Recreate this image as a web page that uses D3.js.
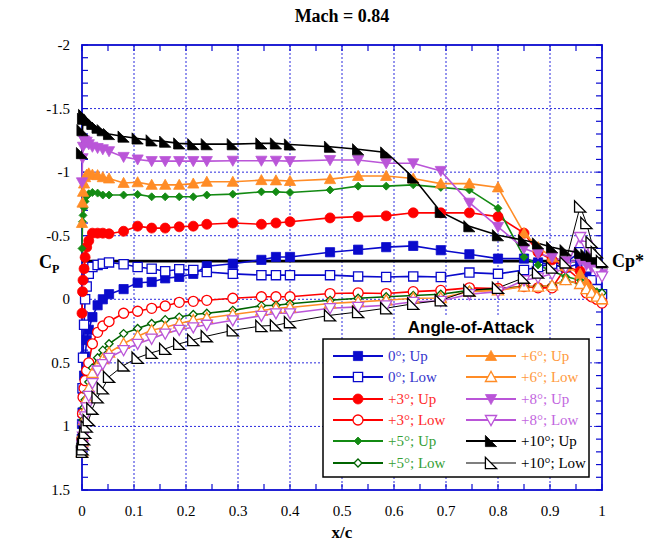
<!DOCTYPE html>
<html>
<head>
<meta charset="utf-8">
<script src="https://cdn.jsdelivr.net/npm/d3@7"></script>
<style>
  body { margin: 0; background: #fff; }
  svg { display: block; }
</style>
</head>
<body>
<svg id="chart" width="647" height="548"></svg>
<script>
// pressure tap locations (x/c), shared by all runs
var taps = [0, 0.001, 0.002, 0.004, 0.006, 0.009, 0.013, 0.02, 0.03, 0.04, 0.052, 0.08, 0.107, 0.134,
    0.16, 0.187, 0.214, 0.24, 0.29, 0.345, 0.373, 0.40, 0.477, 0.531, 0.585, 0.637, 0.69, 0.745,
    0.80, 0.85, 0.877, 0.904, 0.93, 0.958, 0.97, 0.98, 0.99, 1.0];

// Cp values, one per tap
var cp0Up = [0.98, 0.89, 0.75, 0.6, 0.45, 0.32, 0.24, 0.14, 0.047, 0.0, -0.04, -0.08, -0.13, -0.136,
    -0.165, -0.176, -0.2, -0.26, -0.28, -0.31, -0.333, -0.333, -0.37, -0.39, -0.41, -0.42, -0.386, -0.354,
    -0.32, -0.32, -0.29, -0.27, -0.25, -0.28, -0.2, -0.12, -0.07, -0.04];
var cp0Low = [1.1, 0.7, 0.46, 0.2, 0.0, -0.1, -0.2, -0.254, -0.27, -0.28, -0.29, -0.275, -0.254, -0.24,
    -0.22, -0.236, -0.23, -0.215, -0.2, -0.19, -0.19, -0.19, -0.19, -0.18, -0.175, -0.18, -0.175, -0.21,
    -0.2, -0.23, -0.254, -0.28, -0.29, -0.37, -0.25, -0.15, -0.08, -0.04];
var cp3Up = [0.11, -0.06, -0.15, -0.24, -0.33, -0.41, -0.46, -0.52, -0.52, -0.52, -0.515, -0.535, -0.575, -0.56,
    -0.56, -0.57, -0.575, -0.59, -0.6, -0.59, -0.6, -0.61, -0.64, -0.65, -0.656, -0.68, -0.68, -0.68,
    -0.65, -0.52, -0.37, -0.31, -0.26, -0.22, -0.12, -0.06, 0.0, 0.02];
var cp3Low = [1.1, 0.9, 0.77, 0.7, 0.64, 0.56, 0.5, 0.35, 0.26, 0.21, 0.175, 0.11, 0.094, 0.071,
    0.053, 0.024, 0.016, 0.008, -0.008, -0.02, -0.02, -0.02, -0.045, -0.05, -0.045, -0.06, -0.07, -0.09,
    -0.085, -0.1, -0.09, -0.09, -0.25, -0.15, -0.05, -0.02, 0.0, 0.03];
var cp5Up = [-0.4, -0.61, -0.66, -0.72, -0.77, -0.81, -0.83, -0.84, -0.835, -0.82, -0.82, -0.82, -0.825, -0.806,
    -0.806, -0.806, -0.806, -0.82, -0.827, -0.845, -0.845, -0.84, -0.86, -0.89, -0.89, -0.9, -0.88, -0.86,
    -0.716, -0.333, -0.27, -0.22, -0.18, -0.15, -0.1, -0.08, -0.06, -0.05];
var cp5Low = [1.15, 1.05, 0.95, 0.85, 0.79, 0.73, 0.65, 0.54, 0.46, 0.4, 0.35, 0.27, 0.23, 0.19,
    0.16, 0.14, 0.12, 0.11, 0.087, 0.05, 0.047, 0.035, 0.008, -0.008, -0.02, -0.03, -0.04, -0.07,
    -0.08, -0.1, -0.1, -0.11, -0.15, -0.12, -0.08, -0.05, -0.04, -0.05];
var cp6Up = [-0.6, -0.76, -0.845, -0.91, -0.96, -0.98, -0.99, -0.98, -0.976, -0.96, -0.95, -0.915, -0.92, -0.9,
    -0.9, -0.9, -0.91, -0.924, -0.924, -0.937, -0.935, -0.93, -0.945, -0.97, -0.97, -0.95, -0.91, -0.91,
    -0.88, -0.52, -0.41, -0.33, -0.26, -0.2, -0.13, -0.08, -0.03, 0.0];
var cp6Low = [1.2, 1.12, 1.05, 0.95, 0.87, 0.78, 0.7, 0.58, 0.52, 0.47, 0.42, 0.35, 0.29, 0.244,
    0.22, 0.19, 0.165, 0.147, 0.12, 0.09, 0.07, 0.064, 0.033, 0.02, 0.008, -0.008, -0.01, -0.06,
    -0.07, -0.1, -0.1, -0.11, -0.15, -0.12, -0.08, -0.05, -0.02, 0.0];
var cp8Up = [-0.92, -1.11, -1.2, -1.25, -1.24, -1.24, -1.22, -1.2, -1.19, -1.18, -1.165, -1.12, -1.1, -1.087,
    -1.087, -1.087, -1.087, -1.087, -1.09, -1.09, -1.09, -1.087, -1.095, -1.095, -1.07, -1.07, -1.01, -0.76,
    -0.57, -0.4, -0.36, -0.33, -0.3, -0.3, -0.27, -0.25, -0.23, -0.2];
var cp8Low = [1.2, 1.15, 1.08, 1.0, 0.92, 0.85, 0.76, 0.66, 0.56, 0.51, 0.46, 0.4, 0.35, 0.31,
    0.27, 0.24, 0.22, 0.2, 0.165, 0.13, 0.11, 0.11, 0.07, 0.06, 0.047, 0.02, 0.013, -0.04,
    -0.06, -0.15, -0.17, -0.2, -0.25, -0.49, -0.42, -0.32, -0.22, -0.18];
var cp10Up = [-1.15, -1.33, -1.42, -1.45, -1.44, -1.42, -1.41, -1.38, -1.35, -1.33, -1.3, -1.28, -1.265, -1.25,
    -1.24, -1.226, -1.22, -1.22, -1.22, -1.226, -1.226, -1.218, -1.2, -1.18, -1.155, -0.958, -0.687, -0.575,
    -0.504, -0.465, -0.44, -0.41, -0.386, -0.365, -0.35, -0.34, -0.32, -0.29];
var cp10Low = [1.2, 1.18, 1.14, 1.1, 1.05, 1.0, 0.95, 0.86, 0.77, 0.7, 0.61, 0.52, 0.46, 0.42,
    0.39, 0.35, 0.32, 0.29, 0.244, 0.21, 0.205, 0.18, 0.126, 0.1, 0.07, 0.035, 0.008, -0.07,
    -0.09, -0.17, -0.21, -0.25, -0.29, -0.73, -0.6, -0.45, -0.37, -0.3];

var cpStar = -0.30;   // sonic Cp* for M = 0.84

var xTicks = [0, 0.1, 0.2, 0.3, 0.4, 0.5, 0.6, 0.7, 0.8, 0.9, 1];
var yTicks = [-2, -1.5, -1, -0.5, 0, 0.5, 1, 1.5];
var legendLabels = ["0°; Up", "0°; Low", "+3°; Up", "+3°; Low", "+5°; Up", "+5°; Low",
    "+6°; Up", "+6°; Low", "+8°; Up", "+8°; Low", "+10°; Up", "+10°; Low"];

var series = [
    {v: cp0Up,   c: "#0A0ACC", t: "#3434CC", sym: "square",  fill: true},
    {v: cp0Low,  c: "#0A0ACC", t: "#3434CC", sym: "square",  fill: false},
    {v: cp3Up,   c: "#FF0000", t: "#FF2A2A", sym: "circle",  fill: true},
    {v: cp3Low,  c: "#FF0000", t: "#FF2A2A", sym: "circle",  fill: false},
    {v: cp5Up,   c: "#138A13", t: "#35A035", sym: "diamond", fill: true},
    {v: cp5Low,  c: "#006400", t: "#35A035", sym: "diamond", fill: false},
    {v: cp6Up,   c: "#FF8C26", t: "#FF9A40", sym: "triUp",   fill: true},
    {v: cp6Low,  c: "#FF8C26", t: "#FF9A40", sym: "triUp",   fill: false},
    {v: cp8Up,   c: "#BA55D8", t: "#C266E0", sym: "triDown", fill: true},
    {v: cp8Low,  c: "#BA55D8", t: "#C266E0", sym: "triDown", fill: false},
    {v: cp10Up,  c: "#000000", t: "#000000", sym: "rightTri", fill: true},
    {v: cp10Low, c: "#000000", t: "#000000", sym: "rightTri", fill: false}
];

var svg = d3.select("#chart"),
    margin = {left: 82, right: 45, top: 45, bottom: 58},
    W = +svg.attr("width"), H = +svg.attr("height");

var x = d3.scaleLinear().domain([0, 1]).range([margin.left, W - margin.right]);
var y = d3.scaleLinear().domain([-2, 1.5]).range([margin.top, H - margin.bottom]);
var axisBlue = "#0A0AD0";
var serif = "'Liberation Serif', 'Times New Roman', serif";

function symbolPath(sym, s) {
    switch (sym) {
        case "square":  return "M" + (-s) + "," + (-s) + "h" + 2 * s + "v" + 2 * s + "h" + (-2 * s) + "Z";
        case "diamond": return "M0," + (-s) + "L" + s + ",0L0," + s + "L" + (-s) + ",0Z";
        case "triUp":   return "M0," + (-s) + "L" + s + "," + s * 0.8 + "L" + (-s) + "," + s * 0.8 + "Z";
        case "triDown": return "M0," + s + "L" + s + "," + (-s * 0.8) + "L" + (-s) + "," + (-s * 0.8) + "Z";
        case "rightTri": return "M" + (-s) + "," + (-s) + "L" + (-s) + "," + s + "L" + s + "," + s + "Z";
    }
}
var symSize = {square: 4.6, circle: 5, diamond: 4, triUp: 5.6, triDown: 5.6, rightTri: 5.6};

function drawMarker(g, d, px, py) {
    var s = symSize[d.sym];
    var m;
    if (d.sym === "circle") {
        m = g.append("circle").attr("cx", px).attr("cy", py).attr("r", s);
    } else {
        m = g.append("path").attr("d", symbolPath(d.sym, s))
            .attr("transform", "translate(" + px + "," + py + ")");
    }
    m.style("fill", d.fill ? d.c : "#fff")
        .style("stroke", d.c)
        .style("stroke-width", d.fill ? 0.8 : 1.3);
}

// grid (dotted blue)
var grid = svg.append("g");
grid.selectAll(".gx").data(xTicks.slice(1, -1)).enter().append("line")
    .attr("x1", d => x(d)).attr("x2", d => x(d))
    .attr("y1", y(-2)).attr("y2", y(1.5));
grid.selectAll(".gy").data(yTicks.slice(1, -1)).enter().append("line")
    .attr("y1", d => y(d)).attr("y2", d => y(d))
    .attr("x1", x(0)).attr("x2", x(1));
grid.selectAll("line")
    .style("stroke", "#2b2bdd")
    .style("stroke-width", 1)
    .style("stroke-dasharray", "2,2");

// minor ticks, inward on all four sides
var minorX = d3.range(0, 1.0001, 0.05);
var minorY = d3.range(-2, 1.5001, 0.1);
var ticks = svg.append("g").style("stroke", axisBlue).style("stroke-width", 1.2);
minorX.forEach(function (d) {
    ticks.append("line").attr("x1", x(d)).attr("x2", x(d)).attr("y1", y(1.5)).attr("y2", y(1.5) - 6);
    ticks.append("line").attr("x1", x(d)).attr("x2", x(d)).attr("y1", y(-2)).attr("y2", y(-2) + 6);
});
minorY.forEach(function (d) {
    ticks.append("line").attr("x1", x(0)).attr("x2", x(0) + 6).attr("y1", y(d)).attr("y2", y(d));
    ticks.append("line").attr("x1", x(1)).attr("x2", x(1) - 6).attr("y1", y(d)).attr("y2", y(d));
});

// frame
svg.append("rect")
    .attr("x", x(0)).attr("y", y(-2))
    .attr("width", x(1) - x(0)).attr("height", y(1.5) - y(-2))
    .style("fill", "none").style("stroke", axisBlue).style("stroke-width", 1.8);

// tick labels
svg.selectAll(".xl").data(xTicks).enter().append("text")
    .attr("x", d => x(d)).attr("y", y(1.5) + 26)
    .attr("text-anchor", "middle")
    .style("font", "15px " + serif)
    .text(d => d);
svg.selectAll(".yl").data(yTicks).enter().append("text")
    .attr("x", x(0) - 12).attr("y", d => y(d) + 5)
    .attr("text-anchor", "end")
    .style("font", "15px " + serif)
    .text(d => d);

// Cp* line
svg.append("line")
    .attr("x1", x(0)).attr("x2", x(1))
    .attr("y1", y(cpStar)).attr("y2", y(cpStar))
    .style("stroke", "#000").style("stroke-width", 2.6);

// data lines
var line = d3.line().x((d, i) => x(taps[i])).y(d => y(d));
series.forEach(function (d) {
    svg.append("path").attr("d", line(d.v))
        .style("fill", "none").style("stroke", d.c).style("stroke-width", d.sym === "rightTri" && !d.fill ? 1 : 1.6);
});
// data markers
series.forEach(function (d) {
    var g = svg.append("g");
    d.v.forEach(function (v, i) { drawMarker(g, d, x(taps[i]), y(v)); });
});

// titles
svg.append("text").attr("x", 342).attr("y", 22).attr("text-anchor", "middle")
    .style("font", "bold 18px " + serif).text("Mach = 0.84");
svg.append("text").attr("x", 342).attr("y", 538).attr("text-anchor", "middle")
    .style("font", "bold 17px " + serif).text("x/c");
var cpLab = svg.append("text").attr("x", 39).attr("y", 268).style("font", "bold 18px " + serif);
cpLab.append("tspan").text("C");
cpLab.append("tspan").attr("dy", 5).style("font-size", "12px").text("P");
svg.append("text").attr("x", 612).attr("y", 267)
    .style("font", "bold 18px " + serif).text("Cp*");

// legend
var lg = svg.append("g");
lg.append("rect").attr("x", 323).attr("y", 339).attr("width", 266).attr("height", 138)
    .style("fill", "#fff").style("stroke", "#000").style("stroke-width", 1.5);
lg.append("rect").attr("x", 399).attr("y", 315).attr("width", 144).attr("height", 23).style("fill", "#fff");
lg.append("text").attr("x", 471).attr("y", 333).attr("text-anchor", "middle")
    .style("font", "bold 17px 'Liberation Sans', Arial, sans-serif").text("Angle-of-Attack");

var rowY = [356, 377, 399, 420, 441, 463];
series.forEach(function (d, i) {
    var col = Math.floor(i / 6), row = i % 6;
    var x0 = col === 0 ? 333 : 466, ly = rowY[row];
    lg.append("line").attr("x1", x0).attr("x2", x0 + 50).attr("y1", ly).attr("y2", ly)
        .style("stroke", d.c).style("stroke-width", d.sym === "rightTri" && !d.fill ? 1.2 : 2);
    drawMarker(lg, d, x0 + 25, ly);
    lg.append("text").attr("x", x0 + 55).attr("y", ly + 5)
        .style("font", "15px " + serif).style("fill", d.t).text(legendLabels[i]);
});
</script>
</body>
</html>
